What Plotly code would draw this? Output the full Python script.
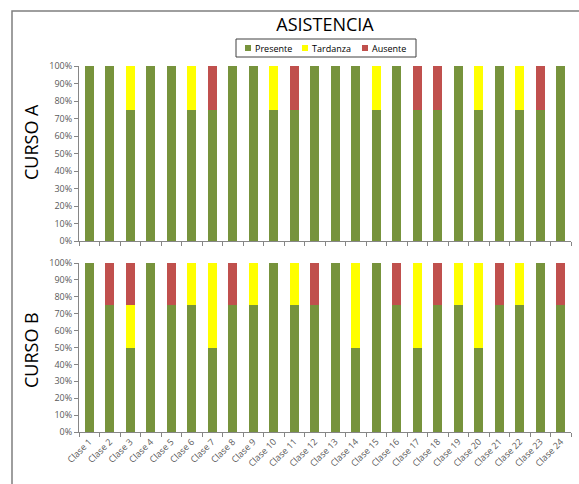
import plotly.graph_objects as go

clases = [f"Clase {i}" for i in range(1, 25)]

a_presente = [100, 100, 75, 100, 100, 75, 75, 100, 100, 75, 75, 100, 100, 100, 75, 100, 75, 75, 100, 75, 100, 75, 75, 100]
a_tardanza = [0, 0, 25, 0, 0, 25, 0, 0, 0, 25, 0, 0, 0, 0, 25, 0, 0, 0, 0, 25, 0, 25, 0, 0]
a_ausente = [0, 0, 0, 0, 0, 0, 25, 0, 0, 0, 25, 0, 0, 0, 0, 0, 25, 25, 0, 0, 0, 0, 25, 0]

b_presente = [100, 75, 50, 100, 75, 75, 50, 75, 75, 100, 75, 75, 100, 50, 100, 75, 50, 75, 75, 50, 75, 75, 100, 75]
b_tardanza = [0, 0, 25, 0, 0, 25, 50, 0, 25, 0, 25, 0, 0, 50, 0, 0, 50, 0, 25, 50, 0, 25, 0, 0]
b_ausente = [0, 25, 25, 0, 25, 0, 0, 25, 0, 0, 0, 25, 0, 0, 0, 25, 0, 25, 0, 0, 25, 0, 0, 25]

series_names = ["Presente", "Tardanza", "Ausente"]
colors = ["#77933C", "#FFFF00", "#C0504D"]
panel_titles = ["CURSO A", "CURSO B"]
chart_title = "ASISTENCIA"

FONT = "Open Sans"
W, H = 579, 484
fig = go.Figure()

for name, col, vals in zip(series_names, colors, [a_presente, a_tardanza, a_ausente]):
    fig.add_trace(go.Bar(x=clases, y=vals, name=name, marker=dict(color=col, line=dict(width=0)),
                         xaxis="x", yaxis="y", showlegend=False))
for name, col, vals in zip(series_names, colors, [b_presente, b_tardanza, b_ausente]):
    fig.add_trace(go.Bar(x=clases, y=vals, name=name, marker=dict(color=col, line=dict(width=0)),
                         xaxis="x2", yaxis="y2", showlegend=False))

axis_line = "#868686"
tickfont = dict(family=FONT, size=9, color="#595959")

xcommon = dict(domain=[79 / W, 571 / W], type="category", showgrid=False,
               showline=True, linecolor=axis_line, linewidth=1,
               ticks="outside", ticklen=4, tickcolor=axis_line, tickson="boundaries",
               tickfont=tickfont, zeroline=False, automargin=False, fixedrange=True)
ycommon = dict(range=[0, 100], dtick=10, ticksuffix="%", showgrid=False,
               showline=True, linecolor=axis_line, linewidth=1,
               ticks="outside", ticklen=4, tickcolor=axis_line, tickfont=tickfont,
               zeroline=False, fixedrange=True, automargin=False)

# manual compact legend (Excel style)
leg_box = dict(x0=236, x1=416, y0=39, y1=57)
leg_sq_x = [248, 305, 365]
shapes = [dict(type="rect", xref="paper", yref="paper", x0=12 / W, x1=1.02, y0=-0.05, y1=1 - 11 / H,
               line=dict(color="#7f7f7f", width=1.5), fillcolor="rgba(0,0,0,0)", layer="below"),
          dict(type="rect", xref="paper", yref="paper", x0=leg_box["x0"] / W, x1=leg_box["x1"] / W,
               y0=1 - leg_box["y1"] / H, y1=1 - leg_box["y0"] / H,
               line=dict(color="#404040", width=1), fillcolor="white")]
annotations = []
ly = 48
for name, col, sx in zip(series_names, colors, leg_sq_x):
    shapes.append(dict(type="rect", xref="paper", yref="paper", x0=(sx - 3) / W, x1=(sx + 3) / W,
                       y0=1 - (ly + 3) / H, y1=1 - (ly - 3) / H, line=dict(width=0), fillcolor=col))
    annotations.append(dict(text=name, xref="paper", yref="paper", x=(sx + 4.5) / W, y=1 - ly / H,
                            xanchor="left", yanchor="middle", showarrow=False,
                            font=dict(family=FONT, size=9, color="#000000")))

for txt, cy in zip(panel_titles, [142, 350]):
    annotations.append(dict(text=txt, xref="paper", yref="paper", x=31 / W, y=1 - cy / H,
                            xanchor="center", yanchor="middle", textangle=-90, showarrow=False,
                            font=dict(family=FONT, size=18, color="#000000")))

fig.update_layout(
    width=W, height=H,
    margin=dict(l=0, r=0, t=0, b=0),
    paper_bgcolor="white", plot_bgcolor="white",
    barmode="stack", bargap=0.56,
    font=dict(family=FONT, color="#000000"),
    showlegend=False,
    title=dict(text=chart_title, x=325 / W, xanchor="center", y=1 - 25 / H, yanchor="middle",
               font=dict(family=FONT, size=18, color="#000000")),
    xaxis=dict(**xcommon, anchor="y", showticklabels=False),
    yaxis=dict(**ycommon, domain=[1 - 241 / H, 1 - 66 / H], anchor="x"),
    xaxis2=dict(**xcommon, anchor="y2", showticklabels=True, tickangle=-45),
    yaxis2=dict(**ycommon, domain=[1 - 432 / H, 1 - 263 / H], anchor="x2"),
    shapes=shapes,
    annotations=annotations,
)

fig.write_html("out.html")
